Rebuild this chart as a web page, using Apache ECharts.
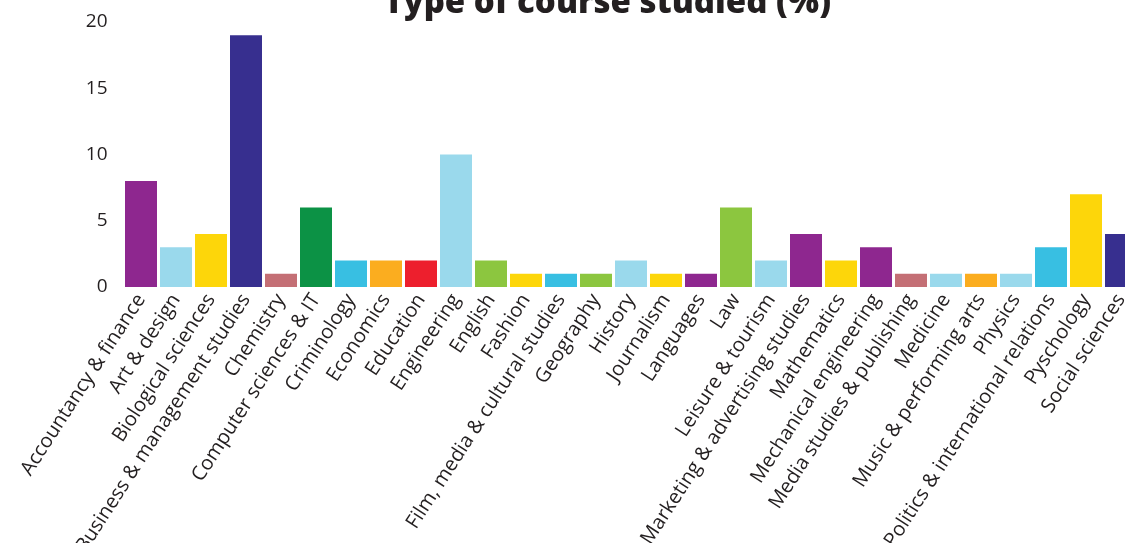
<!DOCTYPE html>
<html>
<head>
<meta charset="utf-8">
<script src="https://cdn.jsdelivr.net/npm/echarts@6/dist/echarts.min.js"></script>
<style>
html,body{margin:0;padding:0;background:#fff;}
#c{width:1125px;height:543px;}
</style>
</head>
<body>
<div id="c"></div>
<script>
const categories = [
  "Accountancy & finance","Art & design","Biological sciences","Business & management studies",
  "Chemistry","Computer sciences & IT","Criminology","Economics","Education","Engineering",
  "English","Fashion","Film, media & cultural studies","Geography","History","Journalism",
  "Languages","Law","Leisure & tourism","Marketing & advertising studies","Mathematics",
  "Mechanical engineering","Media studies & publishing","Medicine","Music & performing arts",
  "Physics","Politics & international relations","Pyschology","Social sciences"
];
const values = [8,3,4,19,1,6,2,2,2,10,2,1,1,1,2,1,1,6,2,4,2,3,1,1,1,1,3,7,4];
const barColors = [
  "#8e278f","#9ad9ec","#fdd60a","#372f8f","#c46f75","#0c9245","#38bfe2","#fbad1f","#ed1f2d","#9ad9ec",
  "#8cc63f","#fdd60a","#38bfe2","#8cc63f","#9ad9ec","#fdd60a","#8e278f","#8cc63f","#9ad9ec","#8e278f",
  "#fdd60a","#8e278f","#c46f75","#9ad9ec","#fbad1f","#9ad9ec","#38bfe2","#fdd60a","#372f8f"
];
const yTicks = [0,5,10,15,20];

const chart = echarts.init(document.getElementById('c'), null, {renderer:'canvas'});
chart.setOption({
  animation:false,
  title:{
    text:'Type of course studied (%)',
    left:602.5, textAlign:'center', top:-18,
    textStyle:{fontFamily:'Open Sans', fontWeight:800, fontSize:33, color:'#231f20'}
  },
  grid:{left:123.5, width:1015, top:22, bottom:256, containLabel:false, outerBoundsMode:'none'},
  xAxis:{
    type:'category', data:categories,
    axisLine:{show:false}, axisTick:{show:false},
    axisLabel:{rotate:57, interval:0, fontFamily:'Open Sans', fontSize:20, color:'#231f20', margin:9}
  },
  yAxis:{
    type:'value', min:yTicks[0], max:yTicks[yTicks.length-1], interval:5,
    splitLine:{show:false}, axisLine:{show:false}, axisTick:{show:false},
    axisLabel:{fontFamily:'Open Sans', fontSize:19, color:'#231f20', margin:16, padding:[4,0,0,0]}
  },
  series:[{
    type:'bar', barWidth:32,
    data: values.map((v,i)=>({value:v, itemStyle:{color:barColors[i]}}))
  }]
});
</script>
</body>
</html>
